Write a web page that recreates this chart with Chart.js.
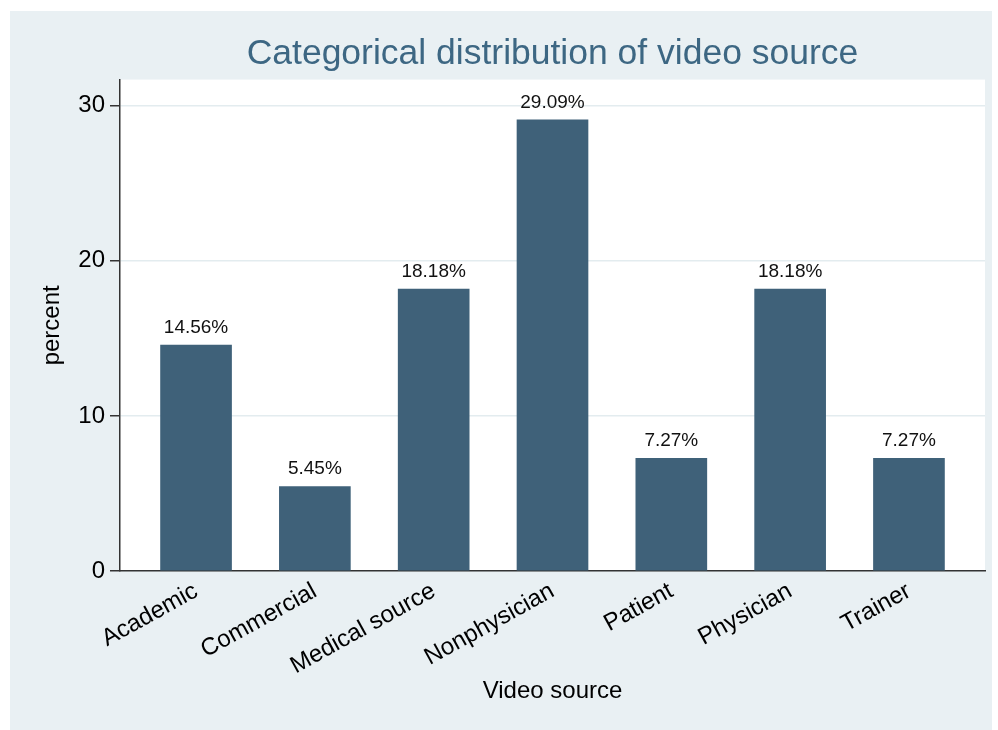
<!DOCTYPE html>
<html>
<head>
<meta charset="utf-8">
<script src="https://cdn.jsdelivr.net/npm/chart.js@4"></script>
<style>
  body { margin: 0; background: #ffffff; }
  #wrap { width: 998px; height: 730px; }
</style>
</head>
<body>
<div id="wrap"><canvas id="chart" width="998" height="730"></canvas></div>
<script>
const categories = ['Academic', 'Commercial', 'Medical source', 'Nonphysician', 'Patient', 'Physician', 'Trainer'];
const percents = [14.56, 5.45, 18.18, 29.09, 7.27, 18.18, 7.27];
const yTicks = [0, 10, 20, 30];

const FONT = "'Liberation Sans', Arial, sans-serif";

// light panel behind everything, white plot region
const backdrop = {
    id: 'backdrop',
    beforeDraw(chart) {
        const ctx = chart.ctx;
        const a = chart.chartArea;
        ctx.save();
        ctx.fillStyle = '#e9f0f3';
        ctx.fillRect(10, 11, 982, 719);
        ctx.fillStyle = '#ffffff';
        ctx.fillRect(a.left, a.top, a.right - a.left, a.bottom - a.top);
        ctx.restore();
    }
};

// percent labels on top of each bar
const barLabels = {
    id: 'barLabels',
    afterDatasetsDraw(chart) {
        const ctx = chart.ctx;
        const meta = chart.getDatasetMeta(0);
        ctx.save();
        ctx.font = '19px ' + FONT;
        ctx.fillStyle = '#111111';
        ctx.textAlign = 'center';
        ctx.textBaseline = 'alphabetic';
        meta.data.forEach((bar, i) => {
            ctx.fillText(percents[i].toFixed(2) + '%', bar.x, bar.y - 12);
        });
        ctx.restore();
    }
};

new Chart(document.getElementById('chart'), {
    type: 'bar',
    data: {
        datasets: [{
            data: percents.map((v, i) => ({ x: i, y: v })),
            backgroundColor: '#3f6179',
            borderWidth: 0,
            barThickness: 71
        }]
    },
    options: {
        responsive: false,
        animation: false,
        layout: { padding: { left: 10, right: 13, top: 11, bottom: 0 } },
        plugins: {
            legend: { display: false },
            tooltip: { enabled: false },
            title: {
                display: true,
                text: 'Categorical distribution of video source',
                fullSize: false,
                color: '#3d6783',
                font: { family: FONT, size: 35.5, weight: 'normal' },
                padding: { top: 22, bottom: 4 }
            }
        },
        scales: {
            x: {
                type: 'linear',
                offset: false,
                min: -0.64,
                max: 6.64,
                afterFit(scale) { scale.height = 159; },
                grid: { color: 'rgba(0,0,0,0)', drawTicks: false },
                border: { display: true, color: '#333333', width: 1.5 },
                ticks: {
                    stepSize: 1,
                    includeBounds: false,
                    autoSkip: false,
                    maxRotation: 29,
                    minRotation: 29,
                    padding: 6,
                    color: '#000000',
                    font: { family: FONT, size: 24 },
                    callback: (v) => Number.isInteger(v) && categories[v] ? categories[v] : ''
                },
                title: {
                    display: true,
                    text: 'Video source',
                    color: '#000000',
                    font: { family: FONT, size: 24 },
                    padding: { top: 0, bottom: 24 }
                }
            },
            y: {
                min: 0,
                max: 31.68,
                afterFit(scale) { scale.width = 110; },
                afterBuildTicks(scale) { scale.ticks = yTicks.map(v => ({ value: v })); },
                grid: { color: '#e3ecef', lineWidth: 1.5, tickColor: '#333333', tickLength: 10, tickWidth: 1.5 },
                border: { display: true, color: '#333333', width: 1.5 },
                ticks: {
                    padding: 5,
                    color: '#000000',
                    font: { family: FONT, size: 24 }
                },
                title: {
                    display: true,
                    text: 'percent',
                    color: '#000000',
                    font: { family: FONT, size: 24 },
                    padding: { top: 28, bottom: 0 }
                }
            }
        }
    },
    plugins: [backdrop, barLabels]
});
</script>
</body>
</html>
